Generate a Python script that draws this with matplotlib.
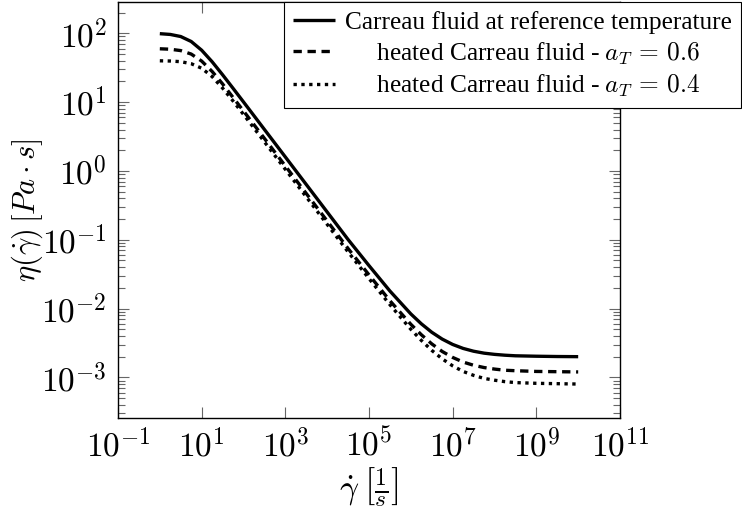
import matplotlib
matplotlib.use("Agg")
import matplotlib.pyplot as plt
from matplotlib.ticker import LogLocator, NullLocator, NullFormatter

plt.rcParams['mathtext.fontset'] = 'cm'
plt.rcParams['font.family'] = ['Liberation Serif', 'DejaVu Serif']

# shear rate [1/s], finer steps around the two bends
shear_rate = [1, 1.78, 3.16, 5.62, 1e1, 1.78e1, 3.16e1, 5.62e1, 1e2, 1.78e2, 3.16e2,
              1e3, 3.16e3, 1e4, 3.16e4, 1e5, 3.16e5, 1e6, 1.78e6, 3.16e6, 5.62e6,
              1e7, 1.78e7, 3.16e7, 5.62e7, 1e8, 1.78e8, 3.16e8, 1e9, 3.16e9, 1e10]

# viscosity [Pa s]
eta_ref = [98.8, 96.3, 89.8, 76.1, 56.8, 38.6, 25.0, 15.9, 10.06, 6.35, 4.01,
           1.597, 0.636, 0.2531, 0.1008, 0.0421, 0.0180, 0.00836, 0.00601, 0.00453, 0.00360,
           0.00301, 0.002635, 0.00240, 0.00225, 0.00216, 0.00210, 0.00206, 0.00203, 0.00201, 0.00200]
eta_06 = [59.6, 58.7, 56.1, 49.96, 39.5, 27.9, 18.4, 11.7, 7.44, 4.70, 2.97,
          1.182, 0.4706, 0.1873, 0.07457, 0.0309, 0.0130, 0.00591, 0.00417, 0.00307, 0.00238,
          0.00195, 0.00167, 0.00150, 0.00139, 0.00132, 0.00127, 0.00125, 0.00122, 0.00121, 0.00120]
eta_04 = [39.86, 39.56, 38.7, 36.2, 31.1, 23.5, 16.0, 10.4, 6.63, 4.20, 2.65,
          1.056, 0.4205, 0.1674, 0.06664, 0.0273, 0.0114, 0.00500, 0.00345, 0.00247, 0.00186,
          0.00147, 0.00122, 0.00107, 0.000967, 0.00091, 0.000867, 0.00084, 0.00082, 0.00081, 0.00080]

labels = ["Carreau fluid at reference temperature",
          "     heated Carreau fluid - $a_T \\,=\\, 0.6$",
          "     heated Carreau fluid - $a_T \\,=\\, 0.4$"]

xticks = [1e-1, 1e1, 1e3, 1e5, 1e7, 1e9, 1e11]
xtick_labels = [r'$10^{-1}$', r'$10^{1}$', r'$10^{3}$', r'$10^{5}$', r'$10^{7}$', r'$10^{9}$', r'$10^{11}$']
yticks = [1e-3, 1e-2, 1e-1, 1e0, 1e1, 1e2]
ytick_labels = [r'$10^{-3}$', r'$10^{-2}$', r'$10^{-1}$', r'$10^{0}$', r'$10^{1}$', r'$10^{2}$']

fig = plt.figure(figsize=(7.42, 5.14), dpi=100)
ax = fig.add_axes([0.159, 0.1868, 0.6766, 0.8093])

lw = 2.4
ax.plot(shear_rate, eta_ref, color='black', lw=lw, solid_capstyle='butt', label=labels[0])
ax.plot(shear_rate, eta_06, color='black', lw=lw, ls=(0, (2.5, 1.7)), dash_capstyle='butt', label=labels[1])
ax.plot(shear_rate, eta_04, color='black', lw=lw, ls=(0, (1, 1.35)), dash_capstyle='butt', label=labels[2])

ax.set_xscale('log')
ax.set_yscale('log')
ax.set_xlim(1e-1, 1e11)
ax.set_ylim(10**-3.59, 10**2.455)

ax.set_xticks(xticks)
ax.set_xticklabels(xtick_labels)
ax.xaxis.set_minor_locator(NullLocator())
ax.set_yticks(yticks)
ax.set_yticklabels(ytick_labels)
ax.yaxis.set_minor_locator(LogLocator(base=10, subs=range(2, 10), numticks=20))
ax.yaxis.set_minor_formatter(NullFormatter())

ax.tick_params(which='both', direction='in', top=True, right=True, color='0.4', width=0.8)
ax.tick_params(which='major', length=7.6, pad=8, labelsize=24)
ax.tick_params(which='minor', length=5)
for s in ax.spines.values():
    s.set_linewidth(1.0)

ax.set_xlabel(r'$\dot{\gamma}\;\left[\frac{1}{s}\right]$', fontsize=24, labelpad=1)
ax.set_ylabel(r'$\eta(\dot{\gamma})\,[Pa \cdot s]$', fontsize=22)
ax.yaxis.set_label_coords(-0.145, 0.5)

leg = ax.legend(loc='upper left', bbox_to_anchor=(0.3307, 1.0), borderaxespad=0,
                fontsize=18.3, fancybox=False, framealpha=1, edgecolor='black',
                handlelength=1.65, handletextpad=0.39, labelspacing=0.25, borderpad=0.35)
leg.get_frame().set_linewidth(0.8)

fig.savefig('out.png', dpi=100)
